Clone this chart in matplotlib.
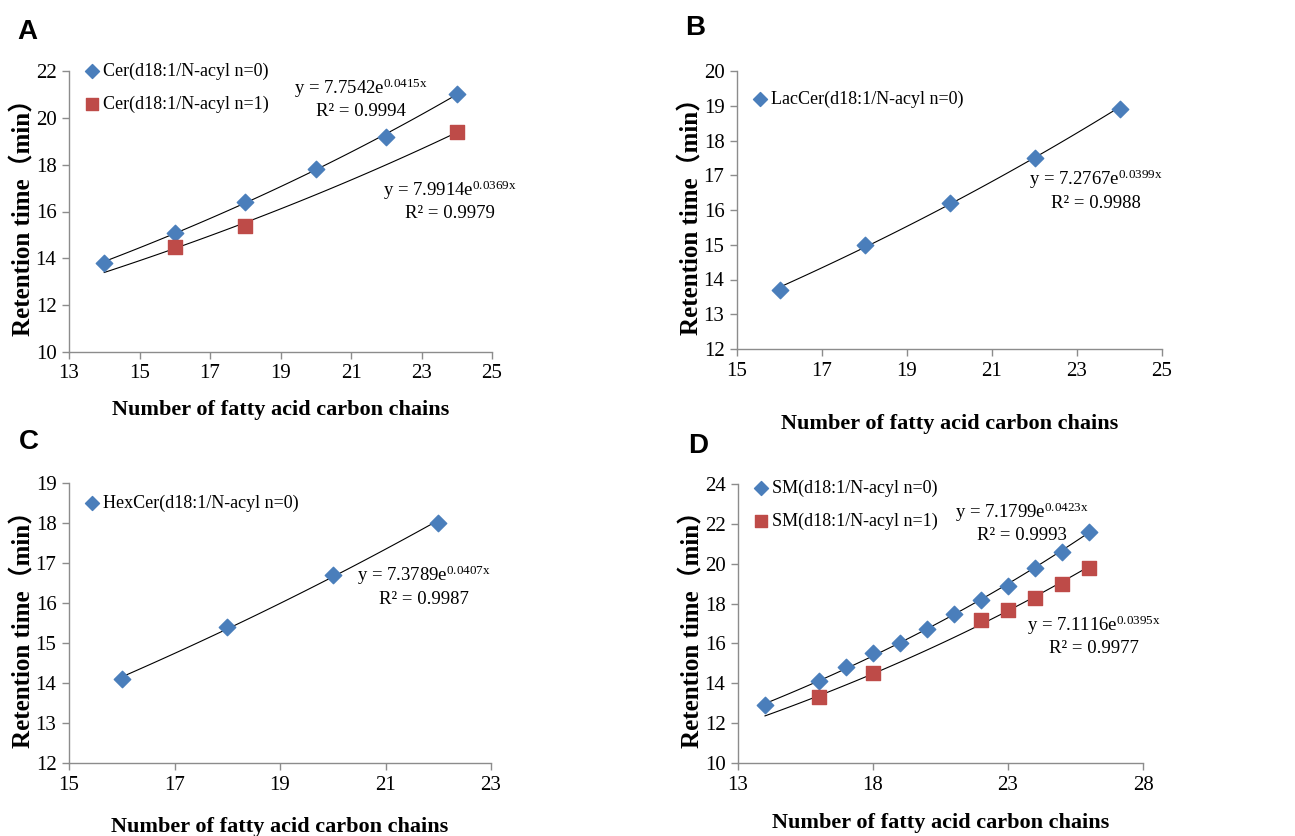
import numpy as np
import matplotlib
matplotlib.use("Agg")
import matplotlib.pyplot as plt

plt.rcParams["font.family"] = ["Liberation Serif", "Noto Sans CJK SC"]
plt.rcParams["mathtext.fontset"] = "custom"
plt.rcParams["mathtext.rm"] = "Liberation Serif"
plt.rcParams["mathtext.it"] = "Liberation Serif"

# =====================
# DATA
# =====================
# A - Cer
cer_x0 = [14, 16, 18, 20, 22, 24]
cer_y0 = [13.8, 15.1, 16.4, 17.8, 19.2, 21.0]
cer_x1 = [16, 18, 24]
cer_y1 = [14.5, 15.4, 19.4]
cer_fit0 = (7.7542, 0.0415)
cer_fit1 = (7.9914, 0.0369)

# B - LacCer
lac_x = [16, 18, 20, 22, 24]
lac_y = [13.7, 15.0, 16.2, 17.5, 18.9]
lac_fit = (7.2767, 0.0399)

# C - HexCer
hex_x = [16, 18, 20, 22]
hex_y = [14.1, 15.4, 16.7, 18.0]
hex_fit = (7.3789, 0.0407)

# D - SM
sm_x0 = [14, 16, 17, 18, 19, 20, 21, 22, 23, 24, 25, 26]
sm_y0 = [12.9, 14.1, 14.8, 15.5, 16.0, 16.7, 17.5, 18.2, 18.9, 19.8, 20.6, 21.6]
sm_x1 = [16, 18, 22, 23, 24, 25, 26]
sm_y1 = [13.3, 14.5, 17.2, 17.7, 18.3, 19.0, 19.8]
sm_fit0 = (7.1799, 0.0423)
sm_fit1 = (7.1116, 0.0395)

BLUE = "#4a7ebb"
RED = "#be4b48"
SPINE = "#8c8c8c"
XLABEL = "Number of fatty acid carbon chains"
YLABEL = "Retention time（min）"


def style_axes(ax, xlim, xticks, ylim, yticks, xlabelpad, ylabelpad):
    ax.set_xlim(xlim)
    ax.set_ylim(ylim)
    ax.set_xticks(xticks)
    ax.set_yticks(yticks)
    for s in ["top", "right"]:
        ax.spines[s].set_visible(False)
    for s in ["left", "bottom"]:
        ax.spines[s].set_color(SPINE)
        ax.spines[s].set_linewidth(1.0)
    ax.tick_params(direction="out", length=5, width=1.0, color=SPINE,
                   labelsize=15, pad=4)
    ax.set_xlabel(XLABEL, fontsize=16, fontweight="bold", labelpad=xlabelpad)
    ax.set_ylabel(YLABEL, fontsize=18, fontweight="bold", labelpad=ylabelpad)


def fit_line(ax, fit, x0, x1):
    a, b = fit
    xs = np.linspace(x0, x1, 100)
    ax.plot(xs, a * np.exp(b * xs), color="black", lw=0.8, zorder=2)


def eq_text(ax, fit, r2, x, y):
    a, b = fit
    ax.text(x, y, "y = %.4fe$^{%.4fx}$" % (a, b), transform=ax.transAxes,
            ha="center", va="center", fontsize=13.5)
    ax.text(x, y - 0.085, "R² = %s" % r2, transform=ax.transAxes,
            ha="center", va="center", fontsize=13.5)


def legend(ax, y_top):
    ax.legend(loc="upper left", bbox_to_anchor=(0.0, y_top), frameon=False,
              fontsize=13, handletextpad=0.0, labelspacing=0.85,
              handlelength=1.2, borderaxespad=0.3, markerscale=0.85)


fig = plt.figure(figsize=(12.95, 8.36), dpi=100)

W, H = 1295, 836
def add_axes(l, r, t, b):
    return fig.add_axes([l / W, 1 - b / H, (r - l) / W, (b - t) / H])

axA = add_axes(69, 492, 71, 352)
axB = add_axes(737, 1162, 71, 349)
axC = add_axes(69, 491, 483, 763)
axD = add_axes(738, 1143, 484, 763)

# ---- A
axA.scatter(cer_x0, cer_y0, marker="D", s=70, color=BLUE, zorder=3,
            label="Cer(d18:1/N-acyl n=0)")
axA.scatter(cer_x1, cer_y1, marker="s", s=90, color=RED, zorder=3,
            label="Cer(d18:1/N-acyl n=1)")
fit_line(axA, cer_fit0, 14, 24)
fit_line(axA, cer_fit1, 14, 24)
style_axes(axA, (13, 25), range(13, 26, 2), (10, 22), range(10, 23, 2), 12, 0)
eq_text(axA, cer_fit0, "0.9994", 0.69, 0.94)
eq_text(axA, cer_fit1, "0.9979", 0.90, 0.577)
legend(axA, 1.075)

# ---- B
axB.scatter(lac_x, lac_y, marker="D", s=70, color=BLUE, zorder=3,
            label="LacCer(d18:1/N-acyl n=0)")
fit_line(axB, lac_fit, 16, 24)
style_axes(axB, (15, 25), range(15, 26, 2), (12, 20), range(12, 21), 24, 0)
eq_text(axB, lac_fit, "0.9988", 0.845, 0.61)
legend(axB, 0.975)

# ---- C
axC.scatter(hex_x, hex_y, marker="D", s=70, color=BLUE, zorder=3,
            label="HexCer(d18:1/N-acyl n=0)")
fit_line(axC, hex_fit, 16, 22)
style_axes(axC, (15, 23), range(15, 24, 2), (12, 19), range(12, 20), 16, 0)
eq_text(axC, hex_fit, "0.9987", 0.84, 0.67)
legend(axC, 1.005)

# ---- D
axD.scatter(sm_x0, sm_y0, marker="D", s=70, color=BLUE, zorder=3,
            label="SM(d18:1/N-acyl n=0)")
axD.scatter(sm_x1, sm_y1, marker="s", s=90, color=RED, zorder=3,
            label="SM(d18:1/N-acyl n=1)")
fit_line(axD, sm_fit0, 14, 26)
fit_line(axD, sm_fit1, 14, 26)
style_axes(axD, (13, 28), range(13, 29, 5), (10, 24), range(10, 25, 2), 13, 0)
eq_text(axD, sm_fit0, "0.9993", 0.70, 0.90)
eq_text(axD, sm_fit1, "0.9977", 0.88, 0.495)
legend(axD, 1.06)

# panel letters
for letter, (px, py) in {"A": (27, 32), "B": (695, 28),
                         "C": (29, 442), "D": (698, 446)}.items():
    fig.text(px / W, 1 - py / H, letter, family="Liberation Sans",
             fontweight="bold", fontsize=20, ha="center", va="center")

fig.savefig("out.png", dpi=100)
